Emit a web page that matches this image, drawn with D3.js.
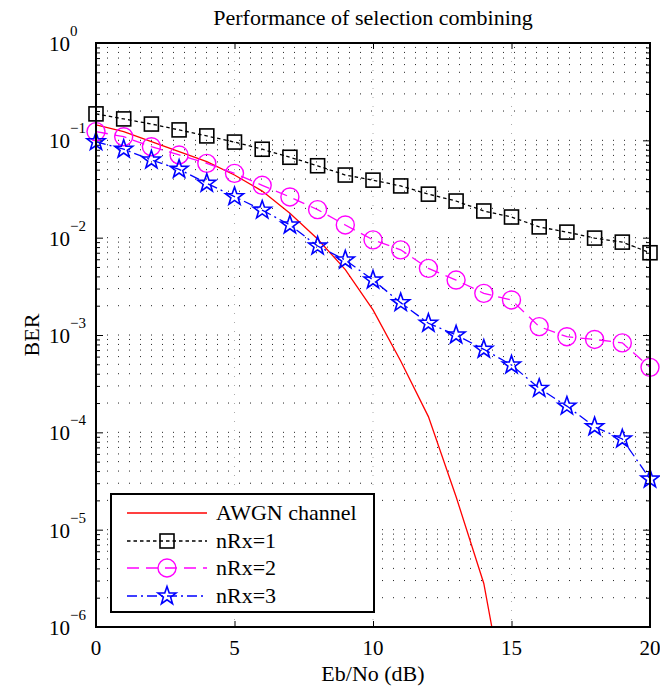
<!DOCTYPE html>
<html>
<head>
<meta charset="utf-8">
<script src="https://cdn.jsdelivr.net/npm/d3@7"></script>
<style>
  body { margin: 0; background: #fff; }
  svg text { font-family: "Liberation Serif", "Times New Roman", serif; fill: #000; }
</style>
</head>
<body>
<svg id="chart" width="660" height="686" font-family="Liberation Serif"></svg>
<script>
// Eb/No values (dB)
var snr = [0,1,2,3,4,5,6,7,8,9,10,11,12,13,14,15,16,17,18,19,20];
var snrAwgn = [0,1,2,3,4,5,6,7,8,9,10,11,12,13,14,15];
// BER
var berAwgn = [0.144,0.123,0.097,0.0764,0.0603,0.044,0.0301,0.0178,0.0097,0.0047,0.00181,0.00054,0.000145,2.18e-5,2.8e-6,8e-8];
var berRx1 = [0.187,0.166,0.147,0.128,0.111,0.096,0.081,0.067,0.0548,0.044,0.039,0.034,0.028,0.0238,0.0188,0.0163,0.0129,0.0114,0.0099,0.0090,0.0070];
var berRx2 = [0.123,0.109,0.086,0.0707,0.058,0.0458,0.0345,0.0262,0.0194,0.0135,0.0095,0.0075,0.00484,0.00367,0.00268,0.00229,0.00122,0.00096,0.00090,0.00083,0.000465];
var berRx3 = [0.0968,0.081,0.0628,0.0504,0.0362,0.0264,0.0192,0.0135,0.0082,0.0059,0.00367,0.00215,0.00132,0.00100,0.000713,0.000492,0.000283,0.000186,0.000114,0.0000854,0.0000331];
var xTicks = [0,5,10,15,20];
var yDecades = [1,1e-1,1e-2,1e-3,1e-4,1e-5,1e-6];
var yExponents = ["0","\u22121","\u22122","\u22123","\u22124","\u22125","\u22126"];
var legendNames = ["AWGN channel","nRx=1","nRx=2","nRx=3"];

var svg = d3.select("#chart");
var serif = "'Liberation Serif', 'Times New Roman', serif";
var pLeft = 96, pRight = 650, pTop = 43, pBottom = 627;

var x = d3.scaleLinear().domain([0,20]).range([pLeft,pRight]);
var y = d3.scaleLog().domain([1e-6,1]).range([pBottom,pTop]);

// minor ticks 2..9 for every decade
var yMinor = [];
for (var d = -6; d < 0; d++) {
  for (var m = 2; m <= 9; m++) yMinor.push(m * Math.pow(10, d));
}

svg.append("defs").append("clipPath").attr("id","plotclip")
  .append("rect").attr("x",pLeft).attr("y",pTop).attr("width",pRight-pLeft).attr("height",pBottom-pTop);

// grid
var grid = svg.append("g");
grid.selectAll("line.h")
  .data(yDecades.concat(yMinor))
  .enter().append("line")
  .attr("x1",pLeft).attr("x2",pRight)
  .attr("y1",function(d){ return y(d); })
  .attr("y2",function(d){ return y(d); })
  .attr("stroke","#222")
  .attr("stroke-width",1)
  .attr("stroke-dasharray","1,10");
grid.selectAll("line.v")
  .data([5,10,15])
  .enter().append("line")
  .attr("x1",function(d){ return x(d); })
  .attr("x2",function(d){ return x(d); })
  .attr("y1",pTop).attr("y2",pBottom)
  .attr("stroke","#aaa")
  .attr("stroke-width",1)
  .attr("stroke-dasharray","1,8");

// ticks (inside)
function cleanAxis(g) { g.select(".domain").remove(); g.selectAll("line").attr("stroke","#000"); }
svg.append("g").attr("transform","translate(0,"+pBottom+")")
  .call(d3.axisBottom(x).tickValues(xTicks).tickSize(-6).tickFormat(""))
  .call(cleanAxis);
svg.append("g").attr("transform","translate(0,"+pTop+")")
  .call(d3.axisTop(x).tickValues(xTicks).tickSize(-6).tickFormat(""))
  .call(cleanAxis);
svg.append("g").attr("transform","translate("+pLeft+",0)")
  .call(d3.axisLeft(y).tickValues(yDecades).tickSize(-7).tickFormat(""))
  .call(cleanAxis);
svg.append("g").attr("transform","translate("+pLeft+",0)")
  .call(d3.axisLeft(y).tickValues(yMinor).tickSize(-4).tickFormat(""))
  .call(cleanAxis);
svg.append("g").attr("transform","translate("+pRight+",0)")
  .call(d3.axisRight(y).tickValues(yDecades).tickSize(-7).tickFormat(""))
  .call(cleanAxis);
svg.append("g").attr("transform","translate("+pRight+",0)")
  .call(d3.axisRight(y).tickValues(yMinor).tickSize(-4).tickFormat(""))
  .call(cleanAxis);

// x tick labels
svg.append("g").selectAll("text")
  .data(xTicks)
  .enter().append("text")
  .attr("x",function(d){ return x(d); })
  .attr("y",pBottom+28)
  .attr("text-anchor","middle")
  .style("font-family",serif)
  .style("font-size","21px")
  .text(function(d){ return d; });

// y tick labels 10^k
var yl = svg.append("g").selectAll("text")
  .data(yDecades)
  .enter().append("text")
  .attr("x",49)
  .attr("y",function(d){ return y(d) + 8; })
  .style("font-family",serif)
  .style("font-size","21px");
yl.append("tspan").text("10");
yl.append("tspan")
  .attr("dy",-15)
  .style("font-size","15px")
  .text(function(d,i){ return yExponents[i]; });

// data lines
var line = d3.line()
  .x(function(d){ return x(d[0]); })
  .y(function(d){ return y(d[1]); });

var plot = svg.append("g").attr("clip-path","url(#plotclip)");

var series = [
  { xs: snrAwgn, ys: berAwgn, color: "#ff0000", dash: null, marker: null },
  { xs: snr, ys: berRx1, color: "#000000", dash: "3.5,3", marker: "square" },
  { xs: snr, ys: berRx2, color: "#ff00ff", dash: "12,7", marker: "circle" },
  { xs: snr, ys: berRx3, color: "#0000ff", dash: "10,4,2,4", marker: "star" }
];

function starPath(R) {
  var r = R * 0.4, pts = [];
  for (var k = 0; k < 10; k++) {
    var a = -Math.PI/2 + k * Math.PI/5;
    var rr = (k % 2 === 0) ? R : r;
    pts.push([rr*Math.cos(a), rr*Math.sin(a)]);
  }
  return "M" + pts.map(function(p){ return p[0].toFixed(2)+","+p[1].toFixed(2); }).join("L") + "Z";
}

function drawMarker(g, type, color) {
  if (type === "square") {
    g.append("rect").attr("x",-7).attr("y",-7).attr("width",14).attr("height",14)
      .attr("fill","none").attr("stroke",color).attr("stroke-width",1.6);
  } else if (type === "circle") {
    g.append("circle").attr("r",9)
      .attr("fill","none").attr("stroke",color).attr("stroke-width",1.4);
  } else if (type === "star") {
    g.append("path").attr("d",starPath(9.5))
      .attr("fill","none").attr("stroke",color).attr("stroke-width",1.6);
  }
}

series.forEach(function(s) {
  var pts = s.xs.map(function(v,i){ return [v, s.ys[i]]; });
  plot.append("path")
    .datum(pts)
    .attr("d",line)
    .attr("fill","none")
    .attr("stroke",s.color)
    .attr("stroke-width",1.3)
    .attr("stroke-dasharray",s.dash);
  if (s.marker) {
    svg.append("g").selectAll("g")
      .data(pts)
      .enter().append("g")
      .attr("transform",function(d){ return "translate("+x(d[0])+","+y(d[1])+")"; })
      .each(function(){ drawMarker(d3.select(this), s.marker, s.color); });
  }
});

// axes box
svg.append("rect")
  .attr("x",pLeft).attr("y",pTop).attr("width",pRight-pLeft).attr("height",pBottom-pTop)
  .attr("fill","none").attr("stroke","#000").attr("stroke-width",2);

// legend
var lg = svg.append("g");
lg.append("rect")
  .attr("x",111).attr("y",494).attr("width",263).attr("height",118)
  .attr("fill","#fff").attr("stroke","#000").attr("stroke-width",2);
var rowY = [513,541,568,596];
series.forEach(function(s,i) {
  lg.append("line")
    .attr("x1",127).attr("x2",207)
    .attr("y1",rowY[i]).attr("y2",rowY[i])
    .attr("stroke",s.color).attr("stroke-width",1.3)
    .attr("stroke-dasharray",s.dash);
  if (s.marker) {
    drawMarker(lg.append("g").attr("transform","translate(167,"+rowY[i]+")"), s.marker, s.color);
  }
  lg.append("text")
    .attr("x",216).attr("y",rowY[i]+7)
    .style("font-family",serif)
    .style("font-size","22px")
    .text(legendNames[i]);
});

// title and axis labels
svg.append("text")
  .attr("x",(pLeft+pRight)/2).attr("y",25)
  .attr("text-anchor","middle")
  .style("font-family",serif)
  .style("font-size","22px")
  .text("Performance of selection combining");
svg.append("text")
  .attr("x",(pLeft+pRight)/2).attr("y",681)
  .attr("text-anchor","middle")
  .style("font-family",serif)
  .style("font-size","22px")
  .text("Eb/No (dB)");
svg.append("text")
  .attr("transform","translate(39,"+((pTop+pBottom)/2)+") rotate(-90)")
  .attr("text-anchor","middle")
  .style("font-family",serif)
  .style("font-size","22px")
  .text("BER");
</script>
</body>
</html>
